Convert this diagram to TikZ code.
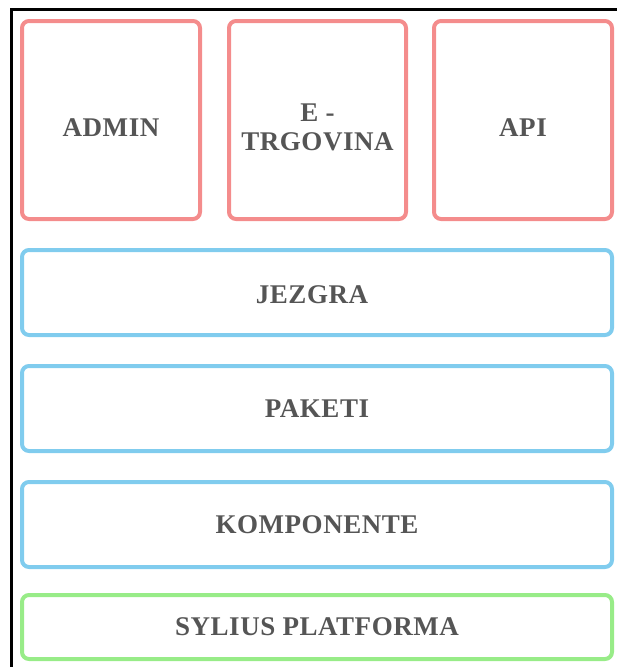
\documentclass[tikz,border=0pt]{standalone}
\usepackage{fontspec}
\setmainfont{Liberation Serif}
\newfontfamily\lblfont[LetterSpace=2]{Liberation Serif}
\usetikzlibrary{calc, positioning}
\definecolor{boxred}{HTML}{F48C8C}
\definecolor{boxblue}{HTML}{80CCEE}
\definecolor{boxgreen}{HTML}{98EC88}
\definecolor{txtgray}{HTML}{555555}

\begin{document}
\begin{tikzpicture}[x=1pt,y=-1pt,
  layer/.style={draw, line width=4pt, rounded corners=7pt, inner sep=0pt},
  redbox/.style={layer, draw=boxred, minimum width=178pt, minimum height=198pt},
  bluebox/.style={layer, draw=boxblue, minimum width=590pt, minimum height=85pt},
  greenbox/.style={layer, draw=boxgreen, minimum width=590pt, minimum height=64pt},
  lbl/.style={text=txtgray, font=\lblfont\bfseries\fontsize{27}{29}\selectfont, align=center}]
\useasboundingbox (0,0) rectangle (617,667);
% frame
\draw [line width=3pt] (11.5,667) -- (11.5,9.5) -- (617,9.5);
% top row
\node[redbox] (admin) at (111,120) {};
\node[lbl] (admintxt) at (111,128) {ADMIN};
\node[redbox, minimum width=177pt] (shop) at (317.5,120) {};
\node[lbl] (shoptxt) at (317.5,127) {E -\\TRGOVINA};
\node[redbox] (api) at (523,120) {};
\node[lbl] (apitxt) at (523,128) {API};
% layers
\node[bluebox] (core) at (317,292.5) {};
\node[lbl] (coretxt) at (312,295) {JEZGRA};
\node[bluebox, lbl] (bundles) at (317,408.5) {PAKETI};
\node[bluebox, lbl] (components) at (317,524.5) {KOMPONENTE};
\node[greenbox, lbl] (platform) at (317,627) {SYLIUS PLATFORMA};
\end{tikzpicture}
\end{document}
